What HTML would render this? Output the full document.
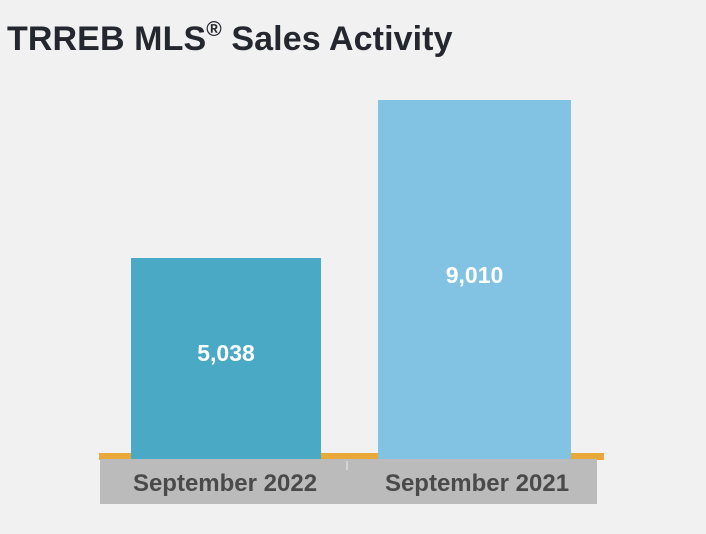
<!DOCTYPE html>
<html><head><style>
body{margin:0;width:706px;height:534px;background:#f1f1f1;position:relative;overflow:hidden;font-family:"Liberation Sans",Arial,sans-serif}
.t{position:absolute;left:7px;top:20px;font-size:34px;font-weight:bold;color:#25272e;white-space:nowrap;letter-spacing:0.1px}
.t sup{font-size:21px;vertical-align:0;position:relative;top:-14px}
.b{position:absolute;color:#fff;font-weight:bold;font-size:23px;display:flex;align-items:center;justify-content:center}
.l{position:absolute;top:470px;font-size:24px;font-weight:bold;color:#4a4a4a;text-align:center}
</style></head><body>
<div class="t">TRREB MLS<sup>®</sup> Sales Activity</div>
<div style="position:absolute;left:99px;top:453px;width:505px;height:7px;background:#e8a83a"></div>
<div style="position:absolute;left:100px;top:459px;width:497px;height:45px;background:#bbbbbb"></div>
<div style="position:absolute;left:346px;top:461px;width:2px;height:9px;background:#d4d4d4"></div>
<div class="b" style="left:131px;top:258px;width:190px;height:190px;background:#4aa9c4">5,038</div>
<div style="position:absolute;left:131px;top:447px;width:190px;height:12px;background:#4aa9c4"></div>
<div class="b" style="left:378px;top:100px;width:193px;height:350px;background:#82c3e4">9,010</div>
<div style="position:absolute;left:378px;top:449px;width:193px;height:10px;background:#82c3e4"></div>
<div class="l" style="left:100px;width:250px">September 2022</div>
<div class="l" style="left:352px;width:250px">September 2021</div>
</body></html>
